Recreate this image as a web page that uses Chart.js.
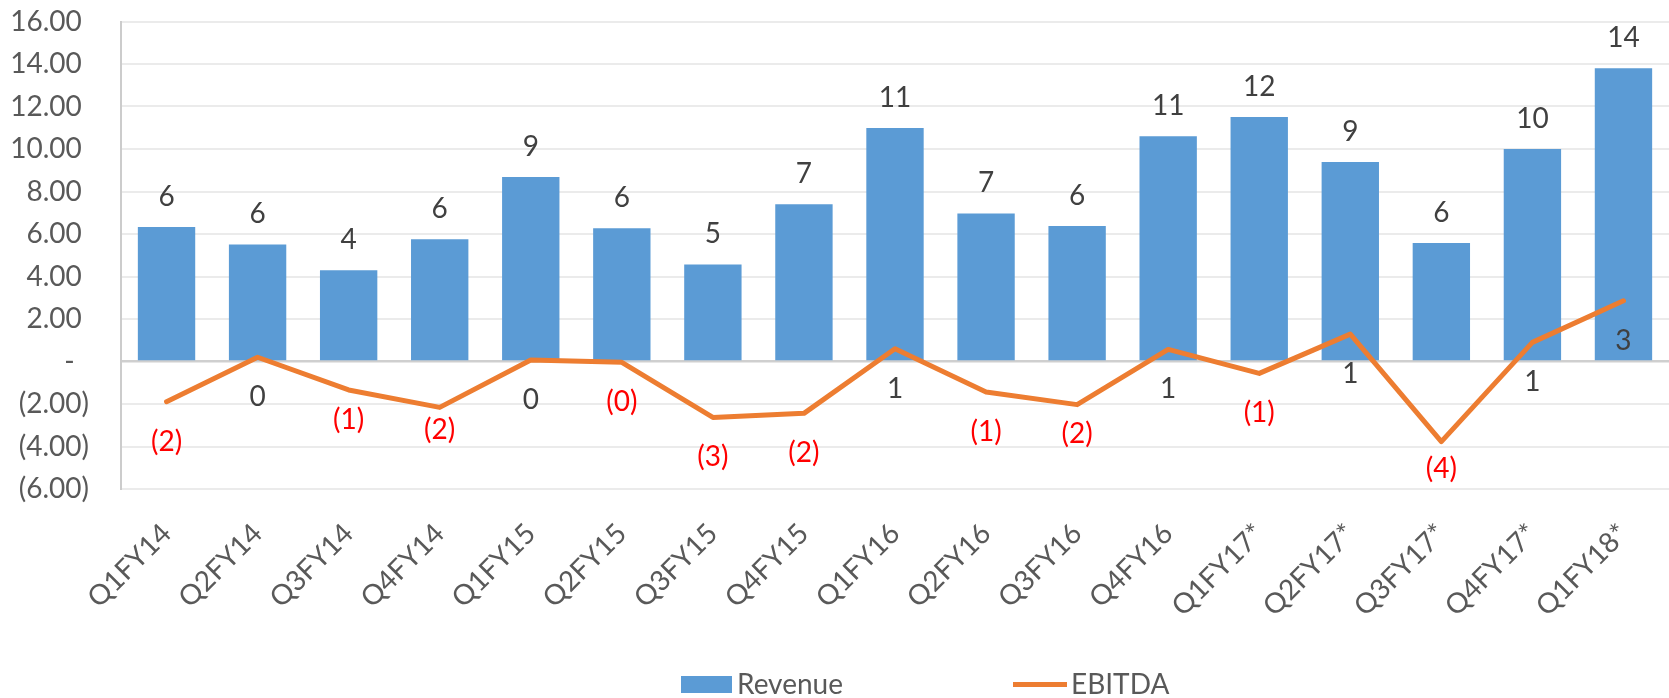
<!DOCTYPE html>
<html>
<head>
<meta charset="utf-8">
<script src="https://cdn.jsdelivr.net/npm/chart.js@4.4.0/dist/chart.umd.min.js"></script>
<style>
  html, body { margin: 0; padding: 0; background: #fff; }
</style>
</head>
<body>
<canvas id="chart" width="1669" height="698"></canvas>
<script>
// quarterly figures
const quarters = ['Q1FY14', 'Q2FY14', 'Q3FY14', 'Q4FY14', 'Q1FY15', 'Q2FY15', 'Q3FY15', 'Q4FY15',
  'Q1FY16', 'Q2FY16', 'Q3FY16', 'Q4FY16', 'Q1FY17*', 'Q2FY17*', 'Q3FY17*', 'Q4FY17*', 'Q1FY18*'];
const revenue = [6.33, 5.51, 4.29, 5.75, 8.68, 6.27, 4.57, 7.40, 10.99, 6.97, 6.38, 10.60, 11.51, 9.39, 5.58, 10.00, 13.80];
const ebitda = [-1.89, 0.20, -1.34, -2.16, 0.07, -0.04, -2.63, -2.44, 0.60, -1.44, -2.03, 0.57, -0.56, 1.29, -3.77, 0.90, 2.86];

const FONT = 'Lato, "Open Sans", sans-serif';
const FONT_SIZE = 28;
const BLUE = '#5B9BD5';
const ORANGE = '#ED7D31';

// accounting style: 2.00, -, (2.00)
function axisLabel(v) {
  if (v === 0) return '-  ';
  if (v < 0) return '(' + Math.abs(v).toFixed(2) + ')';
  return v.toFixed(2) + ' ';
}

function wholeLabel(v) {
  const n = Math.round(Math.abs(v));
  return v < 0 ? '(' + n + ')' : String(n);
}

// a few EBITDA labels sit closer to their point
const ebitdaGap = { 2: 30, 3: 23, 10: 29, 14: 27 };

const valueLabels = {
  id: 'valueLabels',
  afterDatasetsDraw(chart) {
    const ctx = chart.ctx;
    ctx.save();
    ctx.font = FONT_SIZE + 'px ' + FONT;
    ctx.textAlign = 'center';
    ctx.textBaseline = 'middle';
    chart.getDatasetMeta(0).data.forEach((bar, i) => {
      ctx.fillStyle = '#404040';
      ctx.fillText(wholeLabel(revenue[i]), bar.x, bar.y - 30);
    });
    chart.getDatasetMeta(1).data.forEach((pt, i) => {
      const v = ebitda[i];
      ctx.fillStyle = v < 0 ? '#FF0000' : '#404040';
      ctx.fillText(wholeLabel(v), pt.x, pt.y + (ebitdaGap[i] || 40));
    });
    ctx.restore();
  }
};

// legend drawn by hand so the items can sit far apart
const bottomLegend = {
  id: 'bottomLegend',
  afterDraw(chart) {
    const ctx = chart.ctx;
    ctx.save();
    ctx.font = FONT_SIZE + 'px ' + FONT;
    ctx.textBaseline = 'middle';
    ctx.fillStyle = BLUE;
    ctx.fillRect(681, 676, 51, 17);
    ctx.strokeStyle = ORANGE;
    ctx.lineWidth = 5;
    ctx.beginPath();
    ctx.moveTo(1013, 684.5);
    ctx.lineTo(1067, 684.5);
    ctx.stroke();
    ctx.fillStyle = '#595959';
    ctx.fillText('Revenue', 737, 685);
    ctx.fillText('EBITDA', 1071, 685);
    ctx.restore();
  }
};

new Chart(document.getElementById('chart'), {
  data: {
    labels: quarters,
    datasets: [
      {
        type: 'bar',
        label: 'Revenue',
        data: revenue,
        backgroundColor: BLUE,
        categoryPercentage: 1,
        barPercentage: 0.63,
        order: 1,
      },
      {
        type: 'line',
        label: 'EBITDA',
        data: ebitda,
        borderColor: ORANGE,
        borderWidth: 5,
        pointRadius: 0,
        tension: 0,
        borderJoinStyle: 'round',
        borderCapStyle: 'round',
        order: 0,
      },
    ],
  },
  options: {
    responsive: false,
    animation: false,
    layout: { padding: { top: 21.5, right: 0, bottom: 60, left: 0 } },
    plugins: {
      legend: { display: false },
      tooltip: { enabled: false },
    },
    scales: {
      x: {
        grid: { display: false },
        border: { display: false },
        ticks: {
          color: '#595959',
          font: { family: FONT, size: FONT_SIZE },
          minRotation: 45,
          maxRotation: 45,
          autoSkip: false,
          padding: 20,
        },
        afterFit(scale) { scale.height = 149; },
      },
      y: {
        min: -6,
        max: 16,
        ticks: {
          stepSize: 2,
          color: '#595959',
          font: { family: FONT, size: FONT_SIZE },
          padding: 32,
          callback: (v) => axisLabel(v),
        },
        grid: {
          drawTicks: false,
          color: (c) => (c.tick && c.tick.value === 0 ? '#CFCFCF' : '#EBEBEB'),
          lineWidth: (c) => (c.tick && c.tick.value === 0 ? 2.5 : 2),
        },
        border: { color: '#CCCCCC', width: 2 },
        afterFit(scale) {
          scale.width = 121;
          // keep the tick padding from pushing the plot area down
          scale.paddingTop = 0;
          scale.paddingBottom = 0;
        },
      },
    },
  },
  plugins: [valueLabels, bottomLegend],
});
</script>
</body>
</html>
